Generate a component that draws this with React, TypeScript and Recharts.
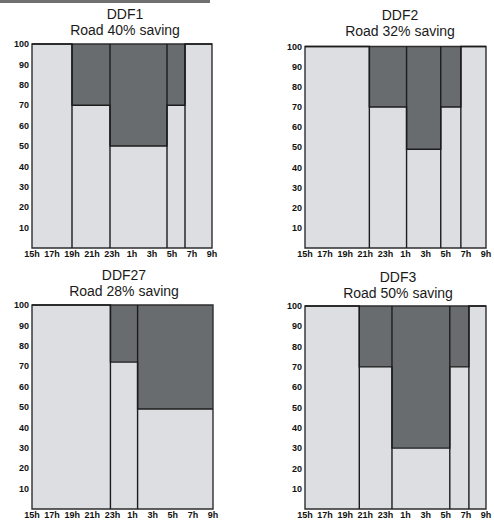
import React from 'react'
import {
  ComposedChart, Area, Line, XAxis, YAxis, ReferenceLine, ReferenceArea,
} from 'recharts'

// hours since 15h; x axis runs 15h -> 9h next morning
const hourLabels = ['15h', '17h', '19h', '21h', '23h', '1h', '3h', '5h', '7h', '9h']
const hourTicks = [0, 2, 4, 6, 8, 10, 12, 14, 16, 18]
const yTicks = [10, 20, 30, 40, 50, 60, 70, 80, 90, 100]

// segment boundaries (hours) and light (road) share per segment, %
const ddf1Bounds = [0, 4, 7.8, 13.5, 15.3, 18]
const ddf1Levels = [100, 70, 50, 70, 100]

const ddf2Bounds = [0, 6.4, 10.1, 13.5, 15.5, 18]
const ddf2Levels = [100, 70, 49, 70, 100]

const ddf27Bounds = [0, 7.8, 10.5, 18]
const ddf27Levels = [100, 72, 49]

const ddf3Bounds = [0, 5.4, 8.65, 14.4, 16.3, 18]
const ddf3Levels = [100, 70, 30, 70, 100]

const LIGHT = '#dcdee1'
const DARK = '#696c6f'
const INK = '#1c1c1c'

const tickStyle = {
  fill: '#111',
  fontSize: 9,
  fontWeight: 700,
  fontFamily: '"Liberation Sans", Arial, sans-serif',
}

function buildRows(bounds: number[], levels: number[]) {
  const rows = levels.map((lv, i) => ({ x: bounds[i], light: lv, dark: 100 - lv }))
  const last = levels[levels.length - 1]
  rows.push({ x: bounds[bounds.length - 1], light: last, dark: 100 - last })
  return rows
}

interface PanelProps {
  title: string
  subtitle: string
  bounds: number[]
  levels: number[]
  ox: number
  oy: number
  plot: { l: number; t: number; r: number; b: number }
  titleX: number
  titleY: number
}

const W = 247
const H = 263
const XH = 16

function Panel({ title, subtitle, bounds, levels, ox, oy, plot, titleX, titleY }: PanelProps) {
  const data = buildRows(bounds, levels)
  return (
    <>
      <div
        style={{
          position: 'absolute', left: titleX - 100, top: titleY, width: 200,
          textAlign: 'center', fontFamily: '"Liberation Sans", Arial, sans-serif',
          fontSize: 14, lineHeight: '16px', color: '#1a1a1a',
        }}
      >
        <div>{title}</div>
        <div>{subtitle}</div>
      </div>
      <div style={{ position: 'absolute', left: ox, top: oy }}>
        <ComposedChart
          width={W}
          height={H}
          data={data}
          margin={{
            top: plot.t - oy,
            left: 0,
            right: ox + W - plot.r,
            bottom: oy + H - plot.b - XH,
          }}
        >
          <XAxis
            dataKey="x"
            type="number"
            domain={[0, 18]}
            ticks={hourTicks}
            tickFormatter={(v: number) => hourLabels[hourTicks.indexOf(v)] ?? ''}
            tick={tickStyle}
            axisLine={false}
            tickLine={false}
            tickSize={0}
            tickMargin={3}
            height={XH}
            interval={0}
          />
          <YAxis
            type="number"
            domain={[0, 100]}
            ticks={yTicks}
            tick={tickStyle}
            axisLine={false}
            tickLine={false}
            tickSize={0}
            tickMargin={3}
            width={plot.l - ox}
            interval={0}
          />
          <Area
            type="stepAfter"
            dataKey="light"
            stackId="a"
            fill={LIGHT}
            fillOpacity={1}
            stroke="none"
            isAnimationActive={false}
          />
          <Area
            type="stepAfter"
            dataKey="dark"
            stackId="a"
            fill={DARK}
            fillOpacity={1}
            stroke="none"
            isAnimationActive={false}
          />
          <Line
            type="stepAfter"
            dataKey="light"
            stroke={INK}
            strokeWidth={1.4}
            dot={false}
            activeDot={false}
            isAnimationActive={false}
          />
          {bounds.slice(1, -1).map(b => (
            <ReferenceLine key={b} x={b} stroke={INK} strokeWidth={1.4} />
          ))}
          <ReferenceArea x1={0} x2={18} y1={0} y2={100} fill="none" stroke="#2e2e2e" strokeWidth={1.4} />
        </ComposedChart>
      </div>
    </>
  )
}

export default function App() {
  return (
    <div style={{ position: 'absolute', left: 0, top: 0, width: 494, height: 528, background: '#fff', overflow: 'hidden' }}>
      <div style={{ position: 'absolute', left: 0, top: 0, width: 210, height: 3, background: '#707070' }} />
      <Panel
        title="DDF1" subtitle="Road 40% saving"
        bounds={ddf1Bounds} levels={ddf1Levels}
        ox={0} oy={0} plot={{ l: 32, t: 44, r: 212, b: 248 }}
        titleX={125} titleY={5.5}
      />
      <Panel
        title="DDF2" subtitle="Road 32% saving"
        bounds={ddf2Bounds} levels={ddf2Levels}
        ox={245} oy={0} plot={{ l: 305, t: 46.5, r: 486, b: 248 }}
        titleX={400} titleY={7.2}
      />
      <Panel
        title="DDF27" subtitle="Road 28% saving"
        bounds={ddf27Bounds} levels={ddf27Levels}
        ox={0} oy={265} plot={{ l: 32, t: 305, r: 213, b: 509 }}
        titleX={124} titleY={267.2}
      />
      <Panel
        title="DDF3" subtitle="Road 50% saving"
        bounds={ddf3Bounds} levels={ddf3Levels}
        ox={245} oy={265} plot={{ l: 305, t: 306, r: 486, b: 509 }}
        titleX={398} titleY={268.9}
      />
    </div>
  )
}
